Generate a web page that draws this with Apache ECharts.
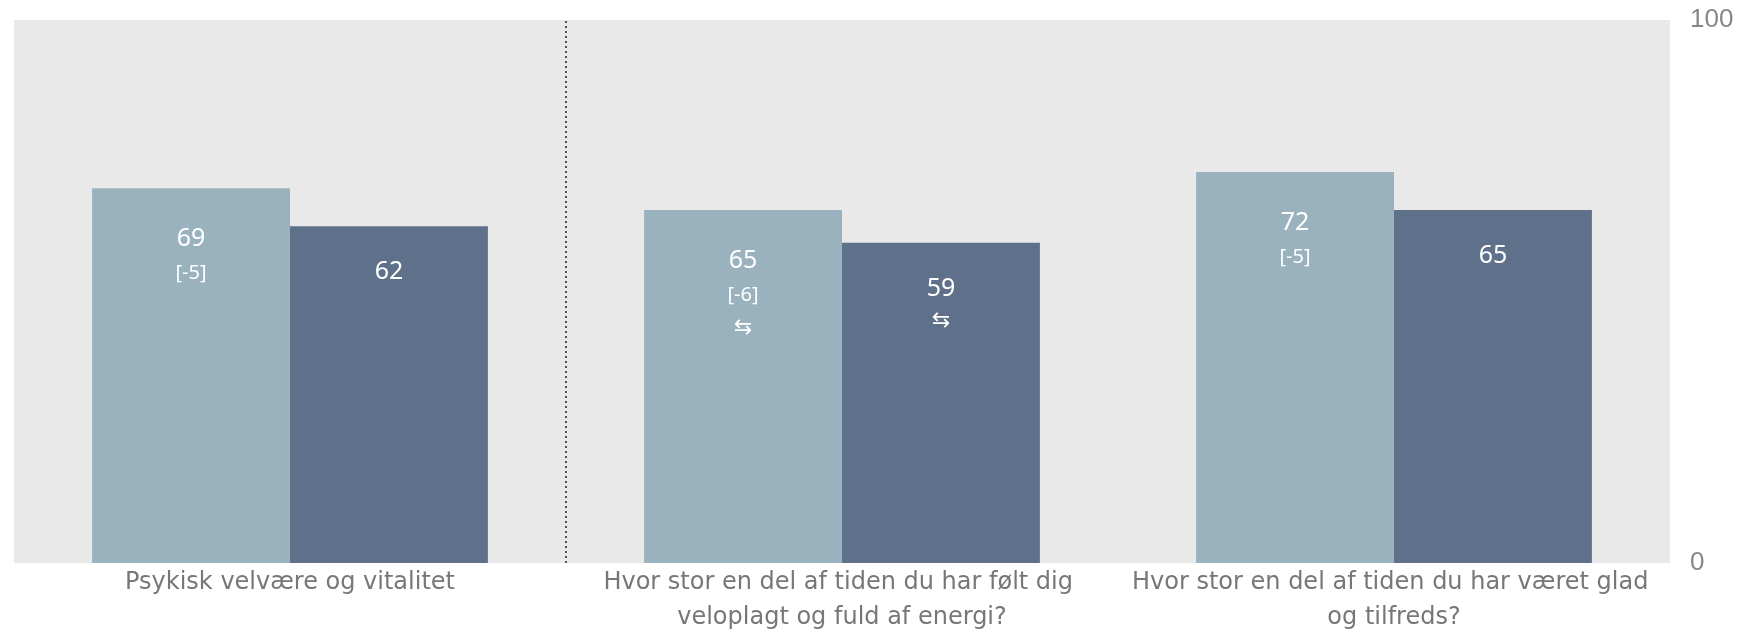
<!DOCTYPE html>
<html>
<head>
<meta charset="utf-8">
<script src="https://cdn.jsdelivr.net/npm/echarts@6/dist/echarts.min.js"></script>
<style>
  html, body { margin: 0; padding: 0; background: #fff; }
  #chart { width: 1749px; height: 635px; }
</style>
</head>
<body>
<div id="chart"></div>
<script>
var categories = [
  "Psykisk velvære og vitalitet",
  "Hvor stor en del af tiden du har følt dig veloplagt og fuld af energi?",
  "Hvor stor en del af tiden du har været glad og tilfreds?"
];
var lightValues = [69, 65, 72];
var darkValues = [62, 59, 65];
var lightDiff = ["[-5]", "[-6]", "[-5]"];
var lightArrow = [false, true, false];
var darkArrow = [false, true, false];
var yTicks = [0, 100];
// dotted divider after the first category
var dividerAt = 1;

var chart = echarts.init(document.getElementById("chart"));

var lightData = lightValues.map(function (v, i) {
  return { value: v, diff: lightDiff[i], arrow: lightArrow[i] };
});
var darkData = darkValues.map(function (v, i) {
  return { value: v, arrow: darkArrow[i] };
});

var rich = {
  v: { fontSize: 25, color: "#fff", lineHeight: 34, fontFamily: "Noto Sans" },
  d: { fontSize: 20, color: "#fff", lineHeight: 34, fontFamily: "Noto Sans" },
  a: { fontSize: 22, color: "#fff", lineHeight: 32, fontFamily: "DejaVu Sans" }
};

var option = {
  animation: false,
  backgroundColor: "#fff",
  grid: {
    left: 14,
    right: 79,
    top: 20,
    bottom: 72,
    outerBoundsMode: "none",
    show: true,
    backgroundColor: "#e9e9e9",
    borderWidth: 0
  },
  xAxis: [
    {
      type: "category",
      data: categories,
      axisLine: { show: false },
      axisTick: { show: false },
      axisLabel: {
        interval: 0,
        color: "#777",
        fontSize: 24,
        fontFamily: "DejaVu Sans",
        lineHeight: 35,
        width: 540,
        overflow: "break",
        margin: 2
      }
    },
    { type: "value", min: 0, max: categories.length, show: false }
  ],
  yAxis: {
    type: "value",
    position: "right",
    min: yTicks[0],
    max: yTicks[1],
    interval: 100,
    splitLine: { show: false },
    axisLine: { show: false },
    axisTick: { show: false },
    axisLabel: { color: "#888", fontSize: 26, fontFamily: "Liberation Sans", margin: 20 }
  },
  series: [
    {
      type: "bar",
      data: lightData,
      barGap: "0%",
      barCategoryGap: "28.3%",
      itemStyle: { color: "#9ab2bd" },
      label: {
        show: true,
        position: "insideTop",
        distance: 34,
        rich: rich,
        formatter: function (p) {
          var s = "{v|" + p.value + "}\n{d|" + p.data.diff + "}";
          if (p.data.arrow) s += "\n{a|⇆}";
          return s;
        }
      }
    },
    {
      type: "bar",
      data: darkData,
      itemStyle: { color: "#5f708b" },
      label: {
        show: true,
        position: "insideTop",
        distance: 29,
        rich: rich,
        formatter: function (p) {
          var s = "{v|" + p.value + "}";
          if (p.data.arrow) s += "\n{a|⇆}";
          return s;
        }
      }
    },
    {
      type: "line",
      xAxisIndex: 1,
      data: [[dividerAt, 0]],
      showSymbol: false,
      symbolSize: 0,
      lineStyle: { opacity: 0 },
      markLine: {
        silent: true,
        symbol: "none",
        label: { show: false },
        lineStyle: { color: "#222", type: [2, 3], width: 1.5 },
        data: [{ xAxis: dividerAt }]
      }
    }
  ]
};

chart.setOption(option);
</script>
</body>
</html>
